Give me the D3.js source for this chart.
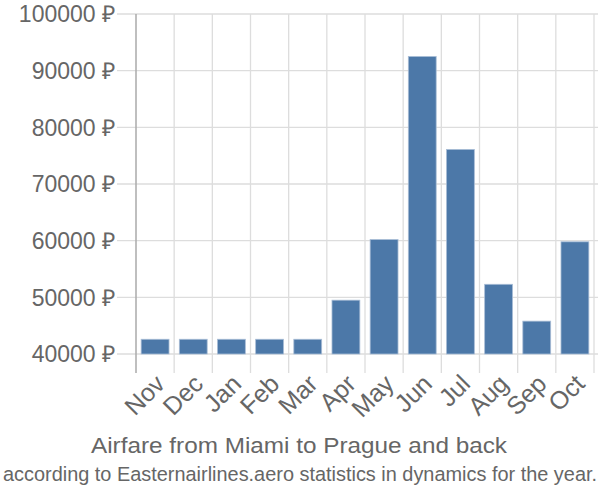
<!DOCTYPE html>
<html><head><meta charset="utf-8">
<script src="https://cdn.jsdelivr.net/npm/d3@7"></script>
<style>body{margin:0;background:#fff}svg{display:block}text{font-family:"Liberation Sans",Arial,sans-serif}</style>
</head><body>
<script>
const months = ["Nov","Dec","Jan","Feb","Mar","Apr","May","Jun","Jul","Aug","Sep","Oct"];
const prices = [42600,42600,42600,42600,42600,49500,60200,92500,76100,52300,45800,59800];
const yTicks = [40000,50000,60000,70000,80000,90000,100000];
const title = "Airfare from Miami to Prague and back";
const subtitle = "according to Easternairlines.aero statistics in dynamics for the year.";

const W=600,H=500;
const svg=d3.select("body").append("svg").attr("width",W).attr("height",H);
const x=d3.scaleBand().domain(months).range([136,594]).paddingInner(0.27).paddingOuter(0.135);
const y=d3.scaleLinear().domain([40000,100000]).range([354,14]);
const step=x.step();
const gridC="#dddddd";

svg.append("g").selectAll("line").data(yTicks).join("line")
  .attr("x1",117).attr("x2",598).attr("y1",d=>y(d)).attr("y2",d=>y(d))
  .attr("stroke",gridC).attr("stroke-width",1.3);
const bounds=d3.range(months.length+1).map(i=>136+i*step);
svg.append("g").selectAll("line").data(bounds.slice(1)).join("line")
  .attr("x1",d=>d).attr("x2",d=>d).attr("y1",14).attr("y2",373)
  .attr("stroke",gridC).attr("stroke-width",1.3);
svg.append("line").attr("x1",136).attr("x2",136).attr("y1",14).attr("y2",373)
  .attr("stroke","#aaaaaa").attr("stroke-width",1.5);

svg.append("g").selectAll("rect").data(months).join("rect")
  .attr("x",d=>x(d)).attr("width",x.bandwidth())
  .attr("y",(d,i)=>y(prices[i])).attr("height",(d,i)=>y(40000)-y(prices[i]))
  .attr("fill","#4c78a8").attr("stroke","#a9bdd6").attr("stroke-width",0.8);

svg.append("g").selectAll("text").data(yTicks).join("text")
  .attr("x",115).attr("y",d=>y(d)).attr("dy","0.36em").attr("text-anchor","end")
  .attr("fill","#666").attr("font-size",23).text(d=>d+" ₽");

svg.append("g").selectAll("text").data(months).join("text")
  .attr("transform",d=>`translate(${x(d)+x.bandwidth()/2+5},${379}) rotate(-45)`)
  .attr("text-anchor","end").attr("dy","0.36em")
  .attr("fill","#666").attr("font-size",25).text(d=>d);

svg.append("text").attr("x",299).attr("y",453).attr("text-anchor","middle")
  .attr("fill","#666").attr("font-size",22).attr("textLength",416).attr("lengthAdjust","spacingAndGlyphs").text(title);
svg.append("text").attr("transform","translate(300,481) scale(1,1.16)").attr("text-anchor","middle")
  .attr("fill","#666").attr("font-size",18).attr("textLength",594).attr("lengthAdjust","spacingAndGlyphs").text(subtitle);
</script>
</body></html>
